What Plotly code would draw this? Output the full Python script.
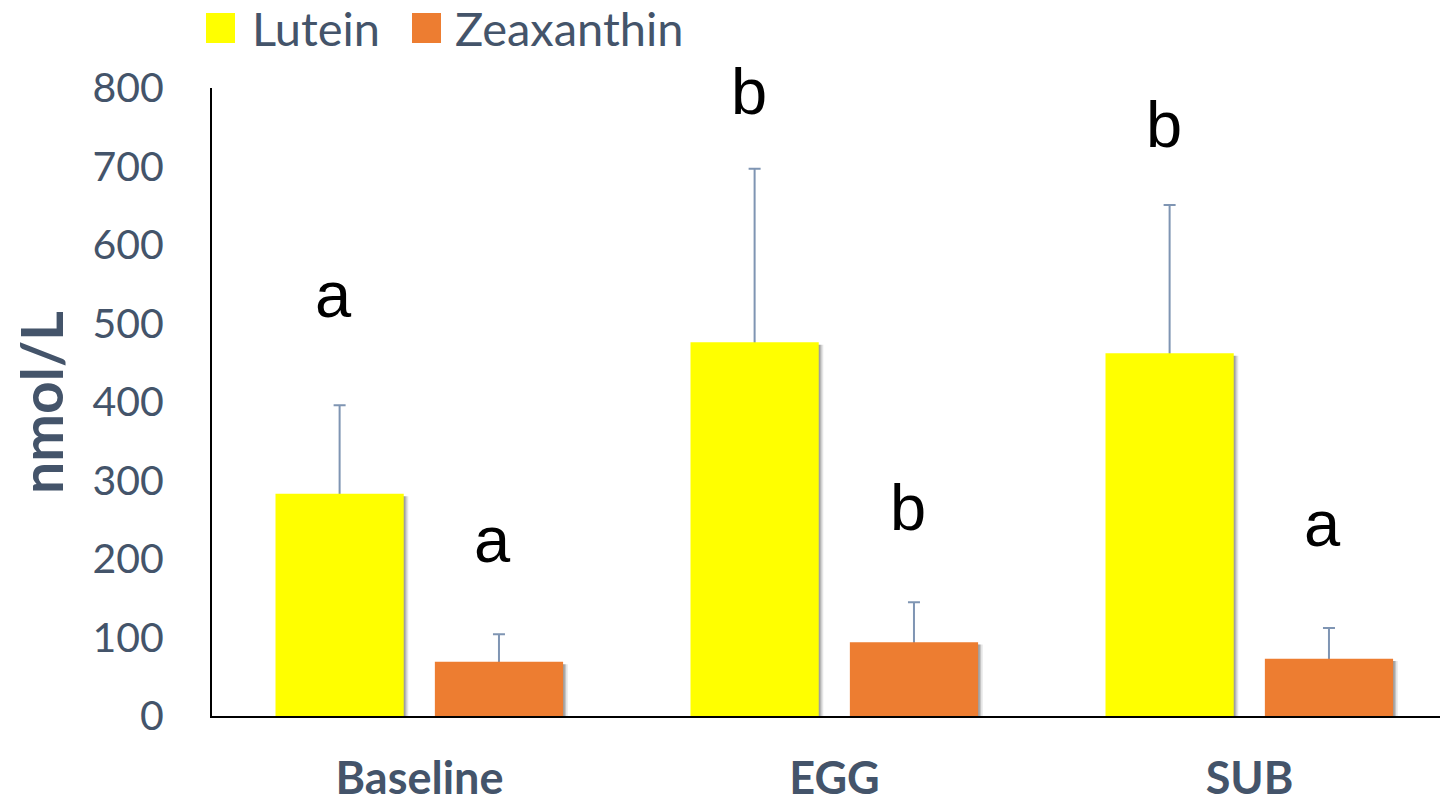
import plotly.graph_objects as go

categories = ["Baseline", "EGG", "SUB"]
lutein = [283, 476, 462]
lutein_err = [113, 221, 189]
zeaxanthin = [69, 94, 73]
zeaxanthin_err = [35, 51, 39]
lutein_letters = ["a", "b", "b"]
zeaxanthin_letters = ["a", "b", "a"]
lutein_letter_y = [532, 791, 749]
zeaxanthin_letter_y = [220, 260, 240]
yticks = [0, 100, 200, 300, 400, 500, 600, 700, 800]

TEXT = "#44546A"
YELLOW = "#FFFF00"
ORANGE = "#ED7D31"
ERR = "#7F95B3"

W = 0.309
OFF_L = -0.347
OFF_Z = 0.037
SINK = 2.5  # hides the lower error-bar cap under the bar top

fig = go.Figure()

# soft shadows
for dx, alpha in [(0.011, 0.10), (0.007, 0.14), (0.004, 0.18)]:
    for vals, off in [(lutein, OFF_L), (zeaxanthin, OFF_Z)]:
        fig.add_trace(go.Bar(
            x=categories, y=[v - 3 for v in vals], width=W, offset=off + dx,
            marker=dict(color=f"rgba(0,0,0,{alpha})", line=dict(width=0)),
            showlegend=False, hoverinfo="skip"))

# error bars (drawn beneath the bars)
for vals, errs, off in [(lutein, lutein_err, OFF_L), (zeaxanthin, zeaxanthin_err, OFF_Z)]:
    fig.add_trace(go.Bar(
        x=categories, y=[v - SINK for v in vals], width=W, offset=off,
        marker=dict(color="rgba(0,0,0,0)", line=dict(width=0)),
        error_y=dict(type="data", array=[e + SINK for e in errs], symmetric=False,
                     arrayminus=[0] * len(vals), color=ERR, thickness=2, width=6),
        showlegend=False, hoverinfo="skip"))

fig.add_trace(go.Bar(
    name="Lutein", x=categories, y=lutein, width=W, offset=OFF_L,
    marker=dict(color=YELLOW, line=dict(width=0)), showlegend=False))
fig.add_trace(go.Bar(
    name="Zeaxanthin", x=categories, y=zeaxanthin, width=W, offset=OFF_Z,
    marker=dict(color=ORANGE, line=dict(width=0)), showlegend=False))

# significance letters
for i, c in enumerate(categories):
    fig.add_annotation(x=i + OFF_L + W / 2, y=lutein_letter_y[i], text=lutein_letters[i],
                       showarrow=False, xshift=-6, yshift=4,
                       font=dict(family="Liberation Sans, Arial", size=65, color="black"))
    fig.add_annotation(x=i + OFF_Z + W / 2, y=zeaxanthin_letter_y[i], text=zeaxanthin_letters[i],
                       showarrow=False, xshift=-6, yshift=4,
                       font=dict(family="Liberation Sans, Arial", size=65, color="black"))

PW = 1228.0
PH = 628.0
def px(x):
    return (x - 212) / PW
def py(y):
    return (716 - y) / PH

# legend drawn at top
legend_items = [("Lutein", YELLOW, 206, 252), ("Zeaxanthin", ORANGE, 412, 455)]
for name, col, sx, tx in legend_items:
    fig.add_shape(type="rect", xref="paper", yref="paper",
                  x0=px(sx), x1=px(sx + 29), y0=py(43), y1=py(13),
                  fillcolor=col, line=dict(width=0))
    fig.add_annotation(xref="paper", yref="paper", x=px(tx - 2), y=py(28), text=name,
                       showarrow=False, xanchor="left", yanchor="middle",
                       font=dict(family="Lato", size=47, color=TEXT))

# y-axis title
fig.add_annotation(xref="paper", yref="paper", x=px(41), y=py(403), text="<b>nmol/L</b>",
                   textangle=-90, showarrow=False, xanchor="center", yanchor="middle",
                   font=dict(family="Lato", size=57, color=TEXT))

fig.update_layout(
    width=1440, height=807,
    margin=dict(l=212, r=0, t=88, b=91, autoexpand=False),
    paper_bgcolor="white", plot_bgcolor="white",
    showlegend=False,
    font=dict(family="Lato", color=TEXT),
)
fig.update_xaxes(range=[-0.5, -0.5 + PW / 415.0], showline=True, linecolor="black", linewidth=2,
                 showgrid=False, zeroline=False, ticks="", automargin=False,
                 tickfont=dict(family="Lato", size=45, color=TEXT),
                 tickvals=[0, 1, 2], ticktext=[f"<b>{c}</b>" for c in categories],
                 ticklabelstandoff=22)
fig.update_yaxes(range=[0, 800], showline=True, linecolor="black", linewidth=2,
                 showgrid=False, zeroline=False, ticks="", automargin=False,
                 tickvals=yticks, tickfont=dict(family="Lato", size=41, color=TEXT),
                 ticklabelstandoff=38)

fig.write_html("out.html", config={"displayModeBar": False},
               post_script="document.body.style.margin='0px';document.body.style.overflow='hidden';")
